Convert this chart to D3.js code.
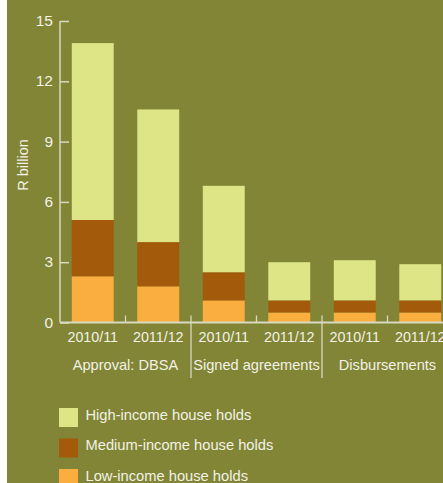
<!DOCTYPE html>
<html>
<head>
<meta charset="utf-8">
<script src="https://cdn.jsdelivr.net/npm/d3@7"></script>
<style>
  html, body { margin: 0; padding: 0; background: #ffffff; }
  svg { display: block; }
  text { font-family: "Liberation Sans", Arial, sans-serif; fill: #f2f2e6; }
</style>
</head>
<body>
<svg id="chart" width="443" height="483"></svg>
<script>
// Housing finance by household income band, R billion
const groups = ["Approval: DBSA", "Signed agreements", "Disbursements"];
const periods = ["2010/11", "2011/12"];
const lowIncome    = [2.3, 1.8, 1.1, 0.5, 0.5, 0.5];
const mediumIncome = [2.8, 2.2, 1.4, 0.6, 0.6, 0.6];
const highIncome   = [8.8, 6.6, 4.3, 1.9, 2.0, 1.8];
const yTicks = [0, 3, 6, 9, 12, 15];
const seriesNames = ["Low-income house holds", "Medium-income house holds", "High-income house holds"];
const seriesColors = ["#fbae40", "#a35a0b", "#dde587"];

const svg = d3.select("#chart");
const bg = "#818535";
const axisColor = "#d9d9c2";

svg.append("rect").attr("x", 7).attr("y", 0).attr("width", 436).attr("height", 483).attr("fill", bg);

const bars = [];
groups.forEach((g, gi) => periods.forEach((p, pi) => {
  const i = gi * periods.length + pi;
  bars.push({ key: i, group: g, period: p, low: lowIncome[i], medium: mediumIncome[i], high: highIncome[i] });
}));

const x0 = 60, x1 = 453;
const y = d3.scaleLinear().domain([0, 15]).range([322.5, 21]);
const x = d3.scaleBand().domain(bars.map(d => d.key)).range([x0, x1])
  .paddingInner(0.36).paddingOuter(0.18);
const xg = d3.scaleBand().domain(groups).range([x0, x1]);

const stack = d3.stack().keys(["low", "medium", "high"]);
const layers = stack(bars);

svg.append("g").selectAll("g").data(layers).join("g")
  .attr("fill", (d, i) => seriesColors[i])
  .selectAll("rect").data(d => d).join("rect")
  .attr("x", d => x(d.data.key))
  .attr("width", x.bandwidth())
  .attr("y", d => y(d[1]))
  .attr("height", d => y(d[0]) - y(d[1]));

// y axis
const yAxis = svg.append("g").attr("transform", `translate(${x0},0)`)
  .call(d3.axisRight(y).tickValues(yTicks).tickSize(9).tickFormat(d3.format("d")));
yAxis.select(".domain").attr("stroke", axisColor).attr("stroke-width", 1.5)
  .attr("d", `M0,${y(15)}V${y(0)}`);
yAxis.selectAll(".tick line").attr("stroke", axisColor).attr("stroke-width", 1.5);
yAxis.selectAll(".tick text").attr("x", -7).attr("text-anchor", "end")
  .attr("dy", "0.3em").style("font-size", "15.5px").attr("fill", "#f2f2e6");

// x axis baseline and period ticks
svg.append("line").attr("x1", x0).attr("x2", 443).attr("y1", y(0)).attr("y2", y(0))
  .attr("stroke", axisColor).attr("stroke-width", 2);
const stepBounds = d3.range(1, bars.length).map(i => x0 + i * x.step());
svg.append("g").selectAll("line").data(stepBounds).join("line")
  .attr("x1", d => d).attr("x2", d => d)
  .attr("y1", y(0) - 7).attr("y2", (d, i) => (i % 2 === 1) ? 378 : y(0))
  .attr("stroke", axisColor).attr("stroke-width", 1.3);

svg.append("g").selectAll("text").data(bars).join("text")
  .attr("x", d => x(d.key) + x.bandwidth() / 2)
  .attr("y", 341.5)
  .attr("text-anchor", "middle")
  .style("font-size", "14.3px")
  .text(d => d.period);

svg.append("g").selectAll("text").data(groups).join("text")
  .attr("x", d => xg(d) + xg.bandwidth() / 2)
  .attr("y", 370)
  .attr("text-anchor", "middle")
  .style("font-size", "14.6px")
  .text(d => d);

// y axis title
svg.append("text")
  .attr("transform", "translate(28,165) rotate(-90)")
  .attr("text-anchor", "middle")
  .style("font-size", "14.5px")
  .text("R billion");

// legend, high income first
const legendOrder = [2, 1, 0];
const legend = svg.append("g").selectAll("g").data(legendOrder).join("g")
  .attr("transform", (d, i) => `translate(59,${408 + i * 30.5})`);
legend.append("rect").attr("width", 19).attr("height", 19).attr("fill", d => seriesColors[d]);
legend.append("text").attr("x", 26.5).attr("y", 11.5).style("font-size", "14.7px")
  .text(d => seriesNames[d]);
</script>
</body>
</html>
